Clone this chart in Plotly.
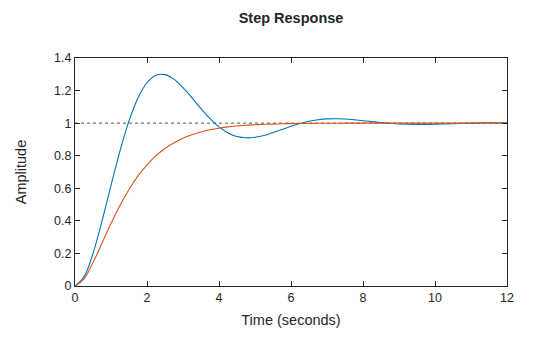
import plotly.graph_objects as go

# Time samples (seconds)
time_s = [0, 0.25, 0.5, 0.75, 1.0, 1.25, 1.5, 1.75, 2.0, 2.25, 2.5, 2.75, 3.0, 3.25, 3.5, 3.75,
          4.0, 4.25, 4.5, 4.75, 5.0, 5.25, 5.5, 5.75, 6.0, 6.25, 6.5, 6.75, 7.0, 7.25, 7.5, 7.75,
          8.0, 8.5, 9.0, 9.5, 10.0, 10.5, 11.0, 11.5, 12.0]

# Underdamped response (blue)
resp_blue = [0, 0.056, 0.200, 0.399, 0.618, 0.830, 1.014, 1.155, 1.248, 1.294, 1.298, 1.270,
             1.218, 1.155, 1.089, 1.028, 0.977, 0.940, 0.918, 0.910, 0.913, 0.924, 0.942, 0.961,
             0.981, 0.998, 1.012, 1.021, 1.026, 1.027, 1.025, 1.021, 1.015, 1.004, 0.995, 0.992,
             0.993, 0.996, 1.000, 1.002, 1.002]

# Well-damped response (orange)
resp_orange = [0, 0.044, 0.144, 0.263, 0.384, 0.495, 0.593, 0.676, 0.744, 0.800, 0.844, 0.880,
               0.908, 0.929, 0.946, 0.959, 0.969, 0.977, 0.982, 0.987, 0.990, 0.993, 0.994, 0.996,
               0.997, 0.998, 0.998, 0.999, 0.999, 0.999, 1.000, 1.000, 1.000, 1.000, 1.000, 1.000,
               1.000, 1.000, 1.000, 1.000, 1.000]

steady_state = 1.0
x_ticks = [0, 2, 4, 6, 8, 10, 12]
y_ticks = [0, 0.2, 0.4, 0.6, 0.8, 1.0, 1.2, 1.4]
y_tick_text = ["0", "0.2", "0.4", "0.6", "0.8", "1", "1.2", "1.4"]

fig = go.Figure()
fig.add_trace(go.Scatter(x=[time_s[0], time_s[-1]], y=[steady_state, steady_state], mode="lines",
                         line=dict(color="#555555", width=1, dash="dot"), hoverinfo="skip"))
fig.add_trace(go.Scatter(x=time_s, y=resp_blue, mode="lines", line_shape="spline",
                         line=dict(color="#0072BD", width=1.1)))
fig.add_trace(go.Scatter(x=time_s, y=resp_orange, mode="lines", line_shape="spline",
                         line=dict(color="#D95319", width=1.1)))

axis_common = dict(showgrid=False, zeroline=False, showline=True, linecolor="#262626",
                   linewidth=1, mirror="ticks", ticks="inside", ticklen=5, tickcolor="#262626",
                   tickfont=dict(size=12.5, color="#262626"))

fig.update_layout(
    width=560, height=337,
    margin=dict(l=75, r=53, t=58, b=51),
    paper_bgcolor="white", plot_bgcolor="white",
    showlegend=False,
    font=dict(family="Liberation Sans, Arial, sans-serif", color="#262626"),
    title=dict(text="<b>Step Response</b>", x=291 / 560, xanchor="center",
               y=1 - 18 / 337, yanchor="middle", font=dict(size=14.5, color="#262626")),
    xaxis=dict(range=[0, 12], tickvals=x_ticks, ticktext=[str(v) for v in x_ticks],
               title=dict(text="Time (seconds)", font=dict(size=14.5), standoff=10), **axis_common),
    yaxis=dict(range=[0, 1.4], tickvals=y_ticks, ticktext=y_tick_text,
               title=dict(text="Amplitude", font=dict(size=14.5), standoff=24), **axis_common),
)

fig.write_html("out.html")
